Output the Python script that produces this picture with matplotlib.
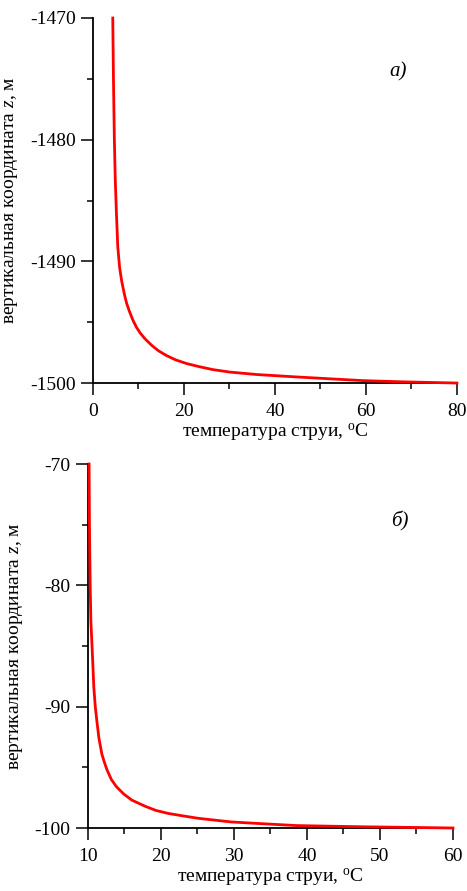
import matplotlib
matplotlib.use("Agg")
import matplotlib.pyplot as plt
from matplotlib.ticker import MultipleLocator

plt.rcParams['font.family'] = ['Liberation Serif', 'DejaVu Serif']
plt.rcParams['mathtext.fontset'] = 'custom'
plt.rcParams['mathtext.rm'] = 'Liberation Serif'
plt.rcParams['mathtext.it'] = 'Liberation Serif:italic'
plt.rcParams['axes.unicode_minus'] = False

# panel a): jet temperature vs depth (read off the picture)
t_a = [4.35, 4.5, 4.7, 4.9, 5.15, 5.45, 5.85, 6.3, 6.9, 7.4, 8.0, 8.8, 9.6,
       10.4, 11.4, 12.9, 14.4, 16.2, 18.2, 20.6, 23.3, 26.4, 30.1, 36.0,
       44.8, 52.0, 59.3, 68.0, 80.0]
z_a = [-1470, -1475, -1480, -1483.3, -1486, -1488.8, -1490.5, -1491.6,
       -1492.7, -1493.45, -1494.1, -1494.85, -1495.45, -1495.9, -1496.35,
       -1496.9, -1497.35, -1497.75, -1498.1, -1498.4, -1498.65, -1498.9,
       -1499.1, -1499.3, -1499.5, -1499.65, -1499.8, -1499.9, -1500]

# panel б)
t_b = [10.15, 10.2, 10.3, 10.4, 10.6, 10.8, 11.0, 11.2, 11.5, 11.9, 12.2,
       12.6, 13.2, 13.9, 14.9, 16.0, 17.8, 19.3, 21.0, 23.0, 25.1, 29.6,
       34.0, 38.6, 47.7, 54.0, 60.0]
z_b = [-70, -75, -80, -83, -85.6, -88.4, -90, -91.1, -92.6, -93.9, -94.5,
       -95.2, -96.0, -96.6, -97.2, -97.7, -98.2, -98.55, -98.8, -99.0, -99.2,
       -99.5, -99.65, -99.8, -99.9, -99.95, -100]

xlabel = r'температура струи, $^{\mathrm{o}}$C'
ylabel = r'вертикальная координата $z$, м'

fig = plt.figure(figsize=(4.67, 8.91), dpi=100)
ax1 = fig.add_axes([0.1991, 0.5701, 0.7794, 0.4097])
ax2 = fig.add_axes([0.1884, 0.0707, 0.7816, 0.4085])


def style(ax, xlim, ylim, xmaj, xmin, label, lx, ly):
    ax.set_xlim(*xlim)
    ax.set_ylim(*ylim)
    ax.xaxis.set_major_locator(MultipleLocator(xmaj))
    ax.xaxis.set_minor_locator(MultipleLocator(xmin))
    ax.yaxis.set_major_locator(MultipleLocator(10))
    ax.yaxis.set_minor_locator(MultipleLocator(5))
    for s in ['top', 'right']:
        ax.spines[s].set_visible(False)
    for s in ['left', 'bottom']:
        ax.spines[s].set_linewidth(1.3)
    ax.tick_params(which='major', direction='out', length=8.5, width=1.1,
                   labelsize=14)
    ax.tick_params(which='minor', direction='out', length=4.5, width=1.1)
    ax.tick_params(axis='x', which='major', pad=6)
    ax.tick_params(axis='y', which='major', pad=4)
    ax.set_xlabel(xlabel, fontsize=14, labelpad=1)
    ax.set_ylabel(ylabel, fontsize=14, labelpad=7)
    ax.text(lx, ly, label, transform=ax.transAxes, fontsize=15,
            style='italic', ha='center', va='center')


ax1.plot(t_a, z_a, color='#ff0000', lw=2, clip_on=False, zorder=5)
style(ax1, (0, 80), (-1500, -1470), 20, 10, 'а)', 0.838, 0.852)

ax2.plot(t_b, z_b, color='#ff0000', lw=2, clip_on=False, zorder=5)
style(ax2, (10, 60), (-100, -70), 10, 5, 'б)', 0.855, 0.843)

fig.savefig('out.png', dpi=100)
